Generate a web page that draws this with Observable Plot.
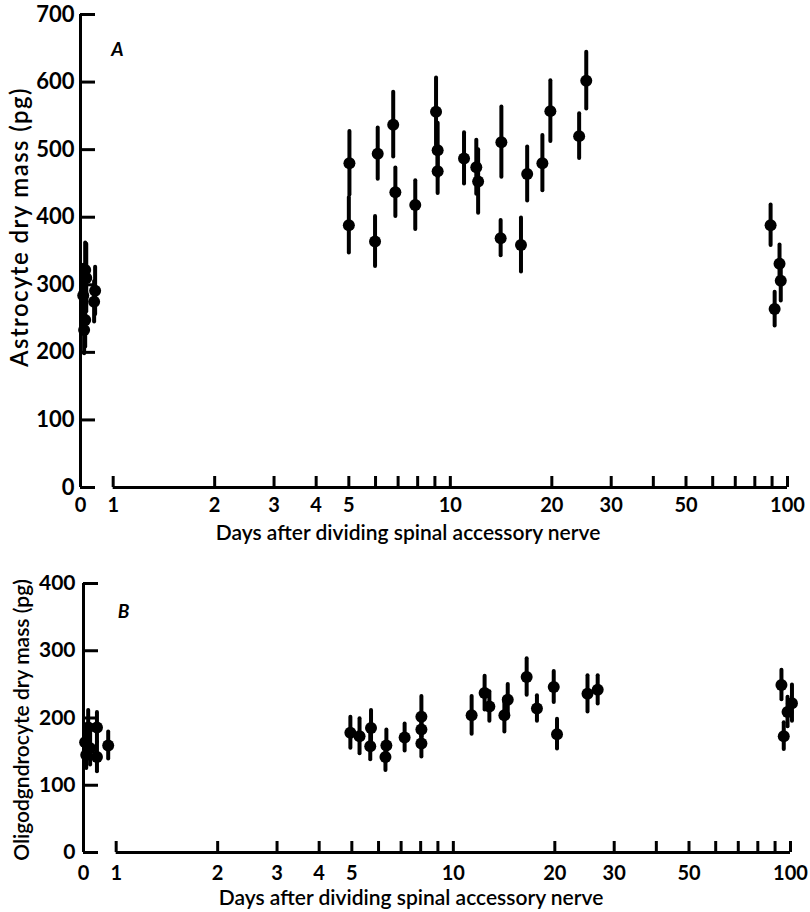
<!DOCTYPE html>
<html>
<head>
<meta charset="utf-8">
<script src="https://cdn.jsdelivr.net/npm/d3@7"></script>
<script src="https://cdn.jsdelivr.net/npm/@observablehq/plot@0.6"></script>
<style>
  html, body { margin: 0; padding: 0; background: #fff; }
  #chart { width: 810px; }
  #chart svg { display: block; }
</style>
</head>
<body>
<div id="chart"></div>
<script>
// ---------- Data ----------
// Panel A: astrocyte dry mass (pg) vs days after dividing the nerve (log axis)
const astroDays = [0.826, 0.832, 0.815, 0.884, 0.878, 0.826, 0.82,
  5.02, 5.0, 6.09, 5.98, 6.77, 6.87, 7.87, 9.07, 9.17, 9.17, 10.98, 11.94, 12.09,
  14.17, 14.1, 16.2, 16.9, 18.75, 19.8, 24.1, 25.3, 89.1, 94.7, 95.5, 91.6];
const astroMass = [322, 310, 284, 291, 275, 248, 233,
  480, 388, 494, 364, 537, 437, 418, 556, 499, 468, 487, 474, 453,
  511, 369, 359, 464, 480, 557, 520, 602, 388, 331, 306, 264];
const astroErr = [40, 50, 45, 35, 30, 40, 35,
  47, 41, 38, 37, 48, 36, 36, 50, 40, 33, 38, 40, 47,
  52, 26, 40, 40, 41, 45, 33, 42, 30, 28, 30, 25];

// Panel B: oligodendrocyte dry mass (pg)
const oligoDays = [0.826, 0.877, 0.809, 0.837, 0.877, 0.947, 0.815,
  4.95, 5.27, 5.70, 5.67, 6.33, 6.29, 7.17, 8.04, 8.04, 8.04, 11.33, 12.38, 12.79,
  14.17, 14.5, 16.5, 17.7, 19.85, 20.3, 25.0, 26.8, 94.0, 101, 98, 95.5];
const oligoMass = [186, 186, 164, 155, 142, 159, 145,
  178, 173, 185, 158, 159, 142, 171, 202, 183, 162, 204, 237, 217,
  204, 227, 261, 214, 246, 176, 236, 242, 249, 222, 209, 173];
const oligoErr = [25, 22, 25, 25, 22, 20, 20,
  23, 26, 26, 20, 23, 20, 20, 30, 22, 20, 28, 25, 22,
  25, 23, 27, 19, 23, 22, 27, 21, 22, 27, 22, 20];

// Axis ticks
const xTickMarks = [1, 2, 3, 4, 5, 6, 7, 8, 9, 10, 20, 30, 40, 50, 60, 70, 80, 90, 100];
const xZero = 0.8;        // where the "0" of the broken axis sits
const xZeroEnd = 0.865;   // end of the short "0" segment
const xTickLabelPos = [0.8, 1, 2, 3, 4, 5, 10, 20, 30, 50, 100];
const xTickLabelText = ["0", "1", "2", "3", "4", "5", "10", "20", "30", "50", "100"];
const yTicksA = [0, 100, 200, 300, 400, 500, 600, 700];
const yTicksB = [0, 100, 200, 300, 400];

const xTitle = "Days after dividing spinal accessory nerve";
const yTitleA = "Astrocyte dry mass (pg)";
const yTitleB = "Oligodgndrocyte dry mass (pg)";

const rows = (days, mass, err) => days.map((d, i) => ({day: d, mass: mass[i], err: err[i]}));
const astro = rows(astroDays, astroMass, astroErr);
const oligo = rows(oligoDays, oligoMass, oligoErr);
const xLabels = xTickLabelPos.map((p, i) => ({pos: p, text: xTickLabelText[i]}));

const FONT = "Lato, 'Open Sans', sans-serif";

function panel(o) {
  const svg = Plot.plot({
    width: o.width, height: o.height,
    marginLeft: o.mL, marginRight: o.mR, marginTop: o.mT, marginBottom: o.mB,
    style: {fontFamily: FONT, fontSize: "18px", color: "#000", background: "#fff", overflow: "visible"},
    x: {type: "log", domain: [xZero, 100], axis: null},
    y: {domain: [0, o.yMax], axis: null},
    marks: [
      // y axis line
      Plot.ruleX([xZero], {y1: 0, y2: o.yMax, stroke: "#000", strokeWidth: 3}),
      // y ticks pointing inward + labels
      Plot.axisY({ticks: o.yTicks, anchor: "left", label: null, tickSize: -15, tickPadding: 15 + o.yLabelOff,
                  strokeWidth: 3, fontWeight: "bold", fontSize: o.yFont, tickFormat: d => String(d)}),
      // x axis: short "0" segment and the log segment 1..100
      Plot.ruleY([0], {x1: xZero, x2: xZeroEnd, stroke: "#000", strokeWidth: 3}),
      Plot.ruleY([0], {x1: 1, x2: 100, stroke: "#000", strokeWidth: 3}),
      Plot.axisX({ticks: xTickMarks, anchor: "bottom", label: null, tickSize: -11, strokeWidth: 3,
                  tickFormat: () => ""}),
      Plot.text(xLabels, {x: "pos", text: "text", frameAnchor: "bottom", lineAnchor: "top", dy: o.xPad,
                          fontWeight: "bold", fontSize: 20, fill: "#000"}),
      // axis titles
      Plot.text([xTitle], {frameAnchor: "bottom", dx: -26, dy: o.titleDy, lineAnchor: "middle",
                           fontSize: 21, fontWeight: 600, fill: "#000"}),
      Plot.text([o.yTitle], {frameAnchor: "left", rotate: -90, textAnchor: "middle", lineAnchor: "middle",
                           dx: o.yTitleDx, dy: o.yTitleDy, fontSize: o.yTitleFont, fontWeight: 600, fill: "#000"}),
      Plot.text([o.letter], {frameAnchor: "top-left", dx: o.letterDx, dy: o.letterDy, textAnchor: "middle",
                           lineAnchor: "middle", fontSize: 19, fontStyle: "italic", fontWeight: "bold", fill: "#000"}),
      // error bars and points
      Plot.ruleX(o.data, {x: "day", y1: d => d.mass - d.err, y2: d => d.mass + d.err,
                        stroke: "#000", strokeWidth: 4, strokeLinecap: "round"}),
      Plot.dot(o.data, {x: "day", y: "mass", r: 6, fill: "#000", stroke: "none"})
    ]
  });
  if (o.yTitleSpacing) {
    d3.select(svg).selectAll("text")
      .filter(function () { return this.textContent === o.yTitle; })
      .attr("letter-spacing", o.yTitleSpacing);
  }
  return svg;
}

const chart = document.getElementById("chart");
chart.append(panel({
  data: astro, yTicks: yTicksA, yMax: 700, yTitle: yTitleA, letter: "A",
  width: 810, height: 545, mL: 80, mR: 23, mT: 14, mB: 58,
  yLabelOff: 6, yFont: 22, xPad: 10, titleDy: 46,
  yTitleDx: -60, yTitleDy: -24, yTitleFont: 24, yTitleSpacing: "1.4px",
  letterDx: 37, letterDy: 35
}));
chart.append(panel({
  data: oligo, yTicks: yTicksB, yMax: 400, yTitle: yTitleB, letter: "B",
  width: 810, height: 367, mL: 83, mR: 20, mT: 38, mB: 60,
  yLabelOff: 8, yFont: 21, xPad: 13, titleDy: 46,
  yTitleDx: -61, yTitleDy: 2, yTitleFont: 21, yTitleSpacing: null,
  letterDx: 40, letterDy: 28
}));
</script>
</body>
</html>
